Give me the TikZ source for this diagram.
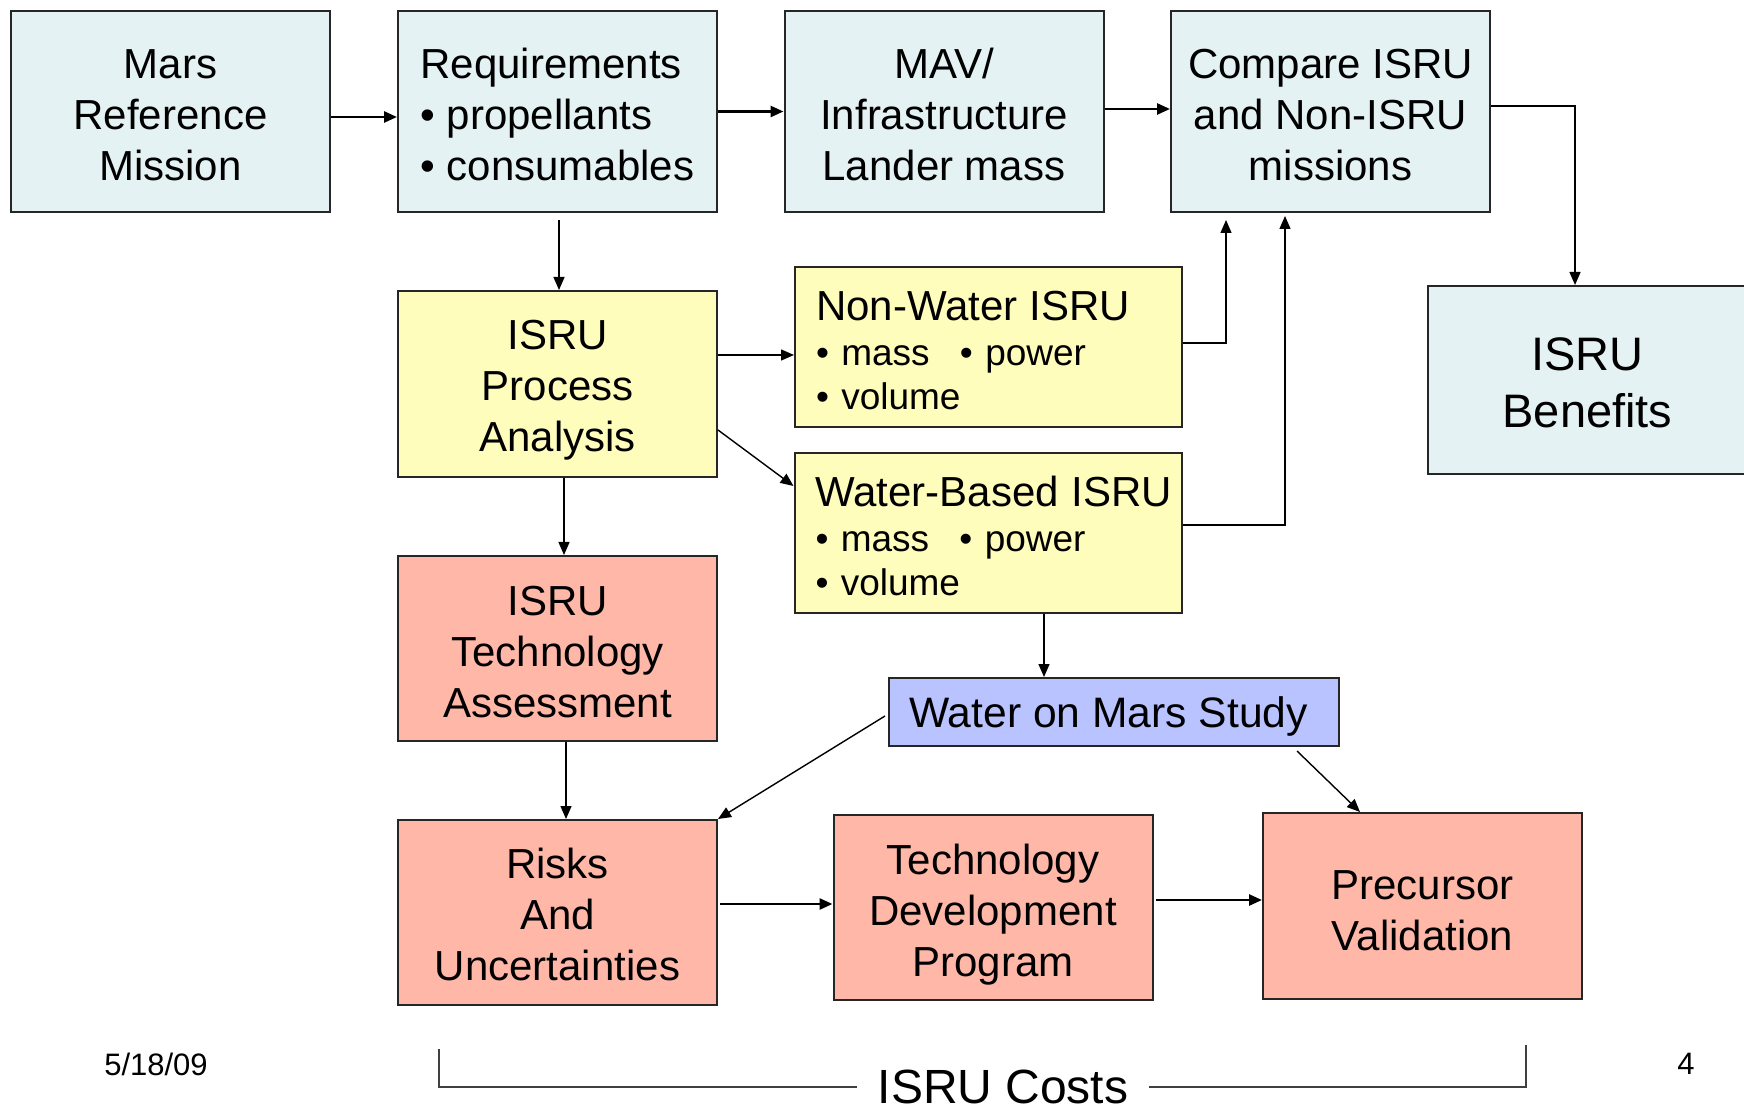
\documentclass[tikz,border=0pt]{standalone}
\usepackage{fontspec}
\setmainfont{Liberation Sans}
\usetikzlibrary{arrows.meta}
\definecolor{boxcyan}{RGB}{228,242,243}
\definecolor{boxyellow}{RGB}{255,253,187}
\definecolor{boxsalmon}{RGB}{255,183,168}
\definecolor{boxblue}{RGB}{184,195,255}
\newcommand{\lift}[1]{\rule{0pt}{#1}}
\tikzset{
  every node/.style={font=\fontsize{21}{25.5}\selectfont},
  blk/.style={
    draw=black!85, line width=1pt, fill=#1, align=center,
    inner sep=0pt, minimum width=159.5pt, minimum height=92.5pt
  },
  lst/.style={
    blk=#1, align=left, inner xsep=10.5pt, text width=172.5pt,
    minimum width=193.5pt, minimum height=80pt,
    font=\fontsize{18.5}{22}\selectfont
  },
  arr/.style={-{Triangle[length=6.5pt,width=5.5pt]}, line width=0.7pt, draw=black},
  arrb/.style={arr, line width=1.3pt},
  brk/.style={line width=1pt, draw=black!75}
}

\begin{document}
\begin{tikzpicture}[x=0.5pt, y=-0.5pt]
\useasboundingbox (0,0) rectangle (1744,1111);
\clip (0,0) rectangle (1744,1111);

\node[blk=boxcyan, minimum height=100.5pt] (mars) at (170.5,111.5)
  {\lift{18.7pt}Mars\\Reference\\Mission};
\node[blk=boxcyan, minimum height=100.5pt, align=left] (req) at (557.5,111.5)
  {\lift{18.7pt}Requirements\\• propellants\\• consumables};
\node[blk=boxcyan, minimum height=100.5pt] (mav) at (944,111.5)
  {\lift{18.7pt}MAV/\\Infrastructure\\Lander mass};
\node[blk=boxcyan, minimum height=100.5pt] (cmp) at (1330.5,111.5)
  {\lift{18.7pt}Compare ISRU\\and Non-ISRU\\missions};
\node[blk=boxcyan, minimum height=94pt, font=\fontsize{23.5}{28.75}\selectfont] (ben) at (1587.5,380)
  {\lift{19.3pt}ISRU\\Benefits};

\node[blk=boxyellow, minimum height=93pt] (ipa) at (557.5,384)
  {\lift{21pt}ISRU\\Process\\Analysis};
\node[lst=boxyellow] (nonw) at (988.5,347)
  {\lift{18pt}{\fontsize{21}{22}\selectfont\mbox{Non-Water ISRU}}\\[0.5pt]
   \makebox[72pt][l]{• mass}• power\\• volume};
\node[lst=boxyellow] (wat) at (988,533)
  {\lift{18pt}{\fontsize{21}{22}\selectfont\mbox{Water-Based ISRU}}\\[0.5pt]
   \makebox[72pt][l]{• mass}• power\\• volume};

\node[blk=boxsalmon] (ita) at (557.5,648.5)
  {\lift{18.6pt}ISRU\\Technology\\Assessment};
\node[blk=boxblue, minimum width=225pt, minimum height=34pt, text depth=0pt,
  font=\fontsize{21.3}{25.5}\selectfont] (wom) at (1114,712)
  {\hspace*{-5.5pt}Water on Mars Study};

\node[blk=boxsalmon] (risk) at (557.5,912.5)
  {\lift{17.5pt}Risks\\And\\Uncertainties};
\node[blk=boxsalmon] (tdp) at (993,907.5)
  {\lift{22pt}Technology\\Development\\Program};
\node[blk=boxsalmon, minimum height=93pt] (pre) at (1422.5,906)
  {\lift{19.7pt}Precursor\\Validation};

\node[font=\fontsize{15.5}{18}\selectfont] (date) at (156,1064) {5/18/09};
\node[font=\fontsize{15.5}{18}\selectfont] (pnum) at (1686,1064) {4};
\node[font=\fontsize{24}{28}\selectfont, inner xsep=10pt] (costs) at (1003,1087) {ISRU Costs};
\coordinate (costsL) at (439,1049);
\coordinate (costsR) at (1526,1045);

\draw[arrb] ([yshift=-2.75pt]mars.east) -- ([yshift=-2.75pt]req.west);
\draw[arrb] (req.east) -- (mav.west);
\draw[arrb] ([yshift=1.25pt]mav.east) -- ([yshift=1.25pt]cmp.west);
\draw[arr] ([yshift=2.75pt]cmp.east) -| ([xshift=-6.25pt]ben.north);
\draw[arr] ([xshift=0.75pt,yshift=-3.5pt]req.south) -- ([xshift=0.75pt]ipa.north);
\draw[arr] ([yshift=14.5pt]ipa.east) -- ([yshift=-4pt]nonw.west);
\draw[arr] ([yshift=-23pt]ipa.east) -- ([yshift=23.5pt]wat.west);
\draw[arr] ([yshift=2pt]nonw.east) -| ([xshift=-52.25pt,yshift=-3.5pt]cmp.south);
\draw[arr] ([yshift=4pt]wat.east) -| ([xshift=-22.75pt,yshift=-1.5pt]cmp.south);
\draw[arr] ([xshift=28pt]wat.south) -- ([xshift=-35pt]wom.north);
\draw[arr] ([xshift=3.25pt]ipa.south) -- ([xshift=3.25pt]ita.north);
\draw[arr] ([xshift=4.25pt]ita.south) -- ([xshift=4.25pt]risk.north);
\draw[arr] ([xshift=-1.5pt,yshift=-2pt]wom.west) -- (risk.north east);
\draw[arr] ([xshift=91.5pt,yshift=-2pt]wom.south) -- ([xshift=-31.25pt]pre.north);
\draw[arrb] ([xshift=1pt,yshift=4.25pt]risk.east) -- ([yshift=1.75pt]tdp.west);
\draw[arrb] ([xshift=1pt,yshift=3.75pt]tdp.east) -- ([yshift=3pt]pre.west);

\draw[brk] (costs.west) -| (costsL);
\draw[brk] (costs.east) -| (costsR);

\end{tikzpicture}
\end{document}
